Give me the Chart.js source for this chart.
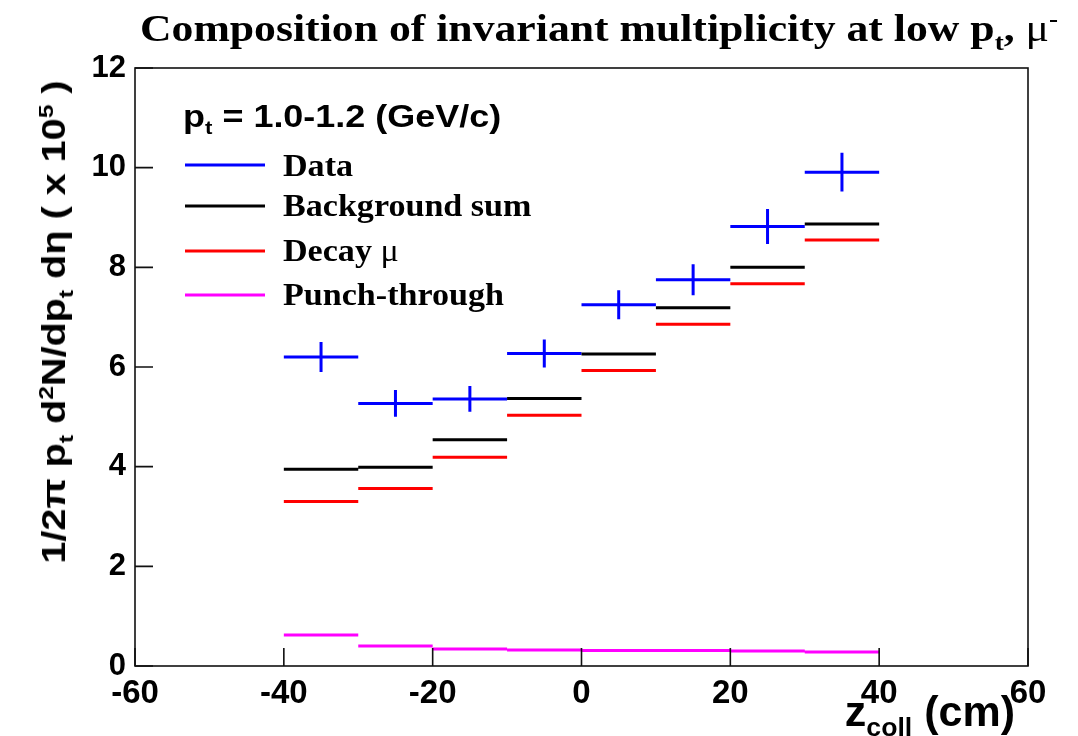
<!DOCTYPE html>
<html>
<head>
<meta charset="utf-8">
<script src="https://cdn.jsdelivr.net/npm/chart.js@4.4.0/dist/chart.umd.min.js"></script>
<style>
html, body { margin: 0; padding: 0; background: #fff; }
#wrap { position: relative; width: 1078px; height: 736px; overflow: hidden; }
#wrap canvas { position: absolute; left: 0; top: 0; }
.lbl { position: absolute; white-space: nowrap; color: #000; }
.serif { font-family: "Liberation Serif", "Times New Roman", serif; font-weight: bold; }
.sans { font-family: "Liberation Sans", Arial, sans-serif; font-weight: bold; }
sub, sup { font-size: 62%; line-height: 0; }
.mu { font-weight: normal; }
</style>
</head>
<body>
<div id="wrap">
  <canvas id="c" width="1078" height="736"></canvas>
  <div class="lbl serif" id="title" style="left:140px; top:8px; font-size:38px; line-height:40px; transform: scaleX(1.15); transform-origin: left top;">Composition of invariant multiplicity at low p<sub>t</sub>, <span class="mu">&mu;</span><sup>-</sup></div>
  <div class="lbl sans" id="ytitle" style="left:54px; top:322px; font-size:33px; line-height:36px; transform: translate(-50%, -50%) rotate(-90deg) scaleX(1.2);">1/2&pi; p<sub>t</sub> d<sup>2</sup>N/dp<sub>t</sub> d&eta; ( x 10<sup>5</sup> )</div>
  <div class="lbl sans" id="xtitle" style="right:63px; top:690px; font-size:43px; line-height:42px;">z<sub>coll</sub> (cm)</div>
  <div class="lbl sans" style="left:183px; top:100px; font-size:31px; line-height:34px; transform: scaleX(1.16); transform-origin: left top;">p<sub>t</sub> = 1.0-1.2 (GeV/c)</div>
  <div class="lbl serif" style="left:283px; top:149px; font-size:32px; line-height:32px; transform: scaleX(1.065); transform-origin: left top;">Data</div>
  <div class="lbl serif" style="left:283px; top:189px; font-size:32px; line-height:32px; transform: scaleX(1.065); transform-origin: left top;">Background sum</div>
  <div class="lbl serif" style="left:283px; top:234px; font-size:32px; line-height:32px; transform: scaleX(1.065); transform-origin: left top;">Decay <span class="mu">&mu;</span></div>
  <div class="lbl serif" style="left:283px; top:278px; font-size:32px; line-height:32px; transform: scaleX(1.065); transform-origin: left top;">Punch-through</div>
</div>
<script>
// z_coll bins (cm)
const binEdges = [-40, -30, -20, -10, 0, 10, 20, 30, 40];
// values in units of 1e-5
const dataVals = [6.20, 5.27, 5.36, 6.27, 7.25, 7.75, 8.82, 9.91];
const dataErrs = [0.30, 0.27, 0.26, 0.28, 0.29, 0.31, 0.35, 0.39];
const bkgSum = [3.95, 3.99, 4.54, 5.37, 6.26, 7.19, 8.00, 8.87];
const decayMu = [3.30, 3.56, 4.19, 5.03, 5.93, 6.86, 7.67, 8.55];
const punchThrough = [0.62, 0.40, 0.34, 0.32, 0.31, 0.31, 0.30, 0.28];

const legendItems = [
	{ color: '#0000ff', y: 165 },
	{ color: '#000000', y: 206 },
	{ color: '#ff0000', y: 251 },
	{ color: '#ff00ff', y: 295 }
];

// horizontal bin segments, broken with nulls
function steps(vals) {
	const pts = [];
	vals.forEach((v, i) => {
		pts.push({ x: binEdges[i], y: v });
		pts.push({ x: binEdges[i + 1], y: v });
		pts.push({ x: binEdges[i + 1], y: null });
	});
	return pts;
}

function errBars(vals, errs) {
	const pts = [];
	vals.forEach((v, i) => {
		const c = (binEdges[i] + binEdges[i + 1]) / 2;
		pts.push({ x: c, y: v - errs[i] });
		pts.push({ x: c, y: v + errs[i] });
		pts.push({ x: c, y: null });
	});
	return pts;
}

function lineSet(label, pts, color) {
	return {
		label: label,
		data: pts,
		borderColor: color,
		backgroundColor: color,
		borderWidth: 3,
		pointRadius: 0,
		spanGaps: false,
		fill: false,
		tension: 0
	};
}

const sansFam = '"Liberation Sans", Arial, sans-serif';

const frameAndTicks = {
	id: 'frameAndTicks',
	afterDatasetsDraw(chart) {
		const { ctx, chartArea: a, scales } = chart;
		ctx.save();
		ctx.strokeStyle = '#111';
		ctx.lineWidth = 1.6;
		ctx.strokeRect(a.left, a.top, a.right - a.left, a.bottom - a.top);
		ctx.beginPath();
		scales.x.ticks.forEach(t => {
			const px = scales.x.getPixelForValue(t.value);
			ctx.moveTo(px, a.bottom);
			ctx.lineTo(px, a.bottom - 18);
		});
		scales.y.ticks.forEach(t => {
			const py = scales.y.getPixelForValue(t.value);
			ctx.moveTo(a.left, py);
			ctx.lineTo(a.left + 18, py);
		});
		ctx.stroke();
		// legend lines
		ctx.lineWidth = 3;
		legendItems.forEach(it => {
			ctx.strokeStyle = it.color;
			ctx.beginPath();
			ctx.moveTo(185, it.y);
			ctx.lineTo(265, it.y);
			ctx.stroke();
		});
		ctx.restore();
	}
};

new Chart(document.getElementById('c'), {
	type: 'line',
	data: {
		datasets: [
			lineSet('Punch-through', steps(punchThrough), '#ff00ff'),
			lineSet('Decay mu', steps(decayMu), '#ff0000'),
			lineSet('Background sum', steps(bkgSum), '#000000'),
			lineSet('Data', steps(dataVals), '#0000ff'),
			lineSet('Data error', errBars(dataVals, dataErrs), '#0000ff')
		]
	},
	options: {
		responsive: false,
		animation: false,
		layout: { padding: { left: 0, top: 68, right: 50, bottom: 0 } },
		plugins: { legend: { display: false }, tooltip: { enabled: false }, title: { display: false } },
		scales: {
			x: {
				type: 'linear',
				min: -60,
				max: 60,
				grid: { display: false },
				border: { display: false },
				ticks: { stepSize: 20, font: { family: sansFam, weight: 'bold', size: 33 }, color: '#000', padding: 0, maxRotation: 0 },
				afterFit(scale) { scale.height = 70; }
			},
			y: {
				type: 'linear',
				min: 0,
				max: 12,
				grid: { display: false },
				border: { display: false },
				ticks: { stepSize: 2, font: { family: sansFam, weight: 'bold', size: 31 }, color: '#000', padding: 1 },
				afterFit(scale) { scale.width = 135; }
			}
		}
	},
	plugins: [frameAndTicks]
});
</script>
</body>
</html>
